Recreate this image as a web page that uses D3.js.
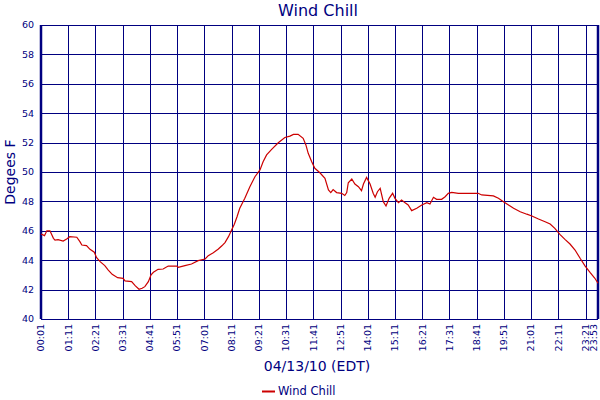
<!DOCTYPE html>
<html>
<head>
<meta charset="utf-8">
<script src="https://cdn.jsdelivr.net/npm/d3@7"></script>
<style>
  body { margin: 0; background: #fff; }
  text { font-family: "DejaVu Sans", Verdana, sans-serif; fill: #000080; }
</style>
</head>
<body>
<div id="chart"></div>
<script>
// minutes since midnight, 04/13/10
var minutes = [1, 10, 16, 24, 33, 37, 45, 58, 67, 75, 93, 101, 106, 118, 127, 138, 144, 153, 165, 174,
  184, 198, 212, 217, 234, 243, 253, 261, 268, 277, 284, 290, 302, 315, 328, 350, 354, 371, 388, 405,
  423, 431, 444, 457, 466, 474, 483, 491, 498, 505, 512, 525, 538, 551, 564, 572, 581, 594, 611, 628,
  641, 650, 662, 675, 682, 688, 697, 705, 718, 731, 740, 746, 752, 761, 774, 782, 787, 791, 800, 808,
  817, 825, 830, 838, 847, 855, 860, 866, 873, 881, 888, 896, 905, 911, 920, 928, 937, 945, 954, 967,
  980, 993, 1001, 1010, 1018, 1031, 1040, 1048, 1057, 1074, 1125, 1134, 1164, 1177, 1190, 1203, 1216, 1233, 1250, 1263,
  1280, 1297, 1310, 1322, 1335, 1348, 1361, 1374, 1387, 1400, 1413, 1425, 1433]
var windChill = [45.78, 45.67, 46.0, 46.0, 45.49, 45.37, 45.4, 45.3, 45.44, 45.6, 45.56, 45.26, 45.03, 44.99, 44.74, 44.54, 44.17, 43.9, 43.63, 43.33,
  43.04, 42.81, 42.77, 42.59, 42.54, 42.27, 42.02, 42.09, 42.2, 42.54, 43.0, 43.18, 43.38, 43.4, 43.6, 43.6, 43.52, 43.63, 43.74, 43.97,
  44.08, 44.31, 44.51, 44.76, 44.98, 45.2, 45.6, 46.05, 46.45, 46.96, 47.53, 48.21, 49.0, 49.68, 50.14, 50.7, 51.16, 51.54, 51.99, 52.35,
  52.44, 52.56, 52.56, 52.29, 51.84, 51.27, 50.7, 50.25, 49.95, 49.57, 48.78, 48.6, 48.8, 48.6, 48.55, 48.4, 48.6, 49.27, 49.52, 49.18,
  49.0, 48.73, 49.18, 49.63, 49.18, 48.55, 48.28, 48.66, 48.89, 47.98, 47.69, 48.21, 48.55, 48.21, 47.91, 48.1, 47.91, 47.76, 47.37, 47.53,
  47.76, 47.91, 47.82, 48.28, 48.14, 48.14, 48.32, 48.55, 48.61, 48.55, 48.55, 48.44, 48.37, 48.21, 47.98, 47.76, 47.53, 47.3, 47.13, 47.01,
  46.8, 46.62, 46.46, 46.17, 45.76, 45.42, 45.1, 44.69, 44.13, 43.6, 43.15, 42.77, 42.43]

var xTicks = [1, 71, 141, 211, 281, 351, 421, 491, 561, 631, 701, 771, 841, 911, 981, 1051, 1121, 1191, 1261, 1331, 1401, 1433]
var yTicks = [40, 42, 44, 46, 48, 50, 52, 54, 56, 58, 60]

var margin = {top: 25, right: 2, bottom: 81, left: 41},
    width = 600 - margin.left - margin.right,
    height = 400 - margin.top - margin.bottom;

var navy = "#000080";

var x = d3.scaleLinear().domain([1, 1433]).range([0, width])
var y = d3.scaleLinear().domain([40, 60]).range([height, 0])

var fmt = function(m) {
  return d3.format("02d")(Math.floor(m / 60)) + ":" + d3.format("02d")(m % 60)
}

var svg = d3.select("#chart")
  .append("svg")
    .attr("width", 600)
    .attr("height", 400)

var g = svg.append("g")
    .attr("transform", "translate(" + margin.left + "," + margin.top + ")")

// grid
g.selectAll(".hgrid").data(yTicks).enter().append("line")
    .attr("x1", 0).attr("x2", width)
    .attr("y1", d => Math.round(y(d)) + 0.5).attr("y2", d => Math.round(y(d)) + 0.5)
    .attr("stroke", navy).attr("stroke-width", 1)

g.selectAll(".vgrid").data(xTicks).enter().append("line")
    .attr("x1", d => Math.round(x(d)) + 0.5).attr("x2", d => Math.round(x(d)) + 0.5)
    .attr("y1", 0).attr("y2", height)
    .attr("stroke", navy).attr("stroke-width", 1)

// axes frame
g.append("line").attr("x1", 0).attr("x2", 0).attr("y1", 0).attr("y2", height)
    .attr("stroke", navy).attr("stroke-width", 2.5)
g.append("line").attr("x1", width).attr("x2", width).attr("y1", 0).attr("y2", height)
    .attr("stroke", navy).attr("stroke-width", 2.5)

// y tick labels
g.append("g").selectAll("text").data(yTicks).enter().append("text")
    .attr("x", -7)
    .attr("y", d => y(d))
    .attr("dy", "0.35em")
    .attr("text-anchor", "end")
    .style("font-size", "9.5px")
    .text(d => d)

// x tick labels (last one nudged so it stays inside the page)
g.append("g").selectAll("text").data(xTicks).enter().append("text")
    .attr("transform", d => "translate(" + Math.min(x(d), width - 4) + "," + (height + 5) + ") rotate(-90)")
    .attr("dy", "0.35em")
    .attr("text-anchor", "end")
    .style("font-size", "9.5px")
    .text(d => fmt(d))

// line
var line = d3.line()
    .x((d, i) => x(minutes[i]))
    .y(d => y(d))

g.append("path")
    .datum(windChill)
    .attr("fill", "none")
    .attr("stroke", "#cc0000")
    .attr("stroke-width", 1.2)
    .attr("d", line)

// titles
svg.append("text")
    .attr("x", 318).attr("y", 16)
    .attr("text-anchor", "middle")
    .style("font-size", "16px")
    .text("Wind Chill")

svg.append("text")
    .attr("transform", "translate(15," + (margin.top + height / 2) + ") rotate(-90)")
    .attr("text-anchor", "middle")
    .style("font-size", "14px")
    .text("Degees F")

svg.append("text")
    .attr("x", 317).attr("y", 371)
    .attr("text-anchor", "middle")
    .style("font-size", "14px")
    .text("04/13/10 (EDT)")

// legend
svg.append("line")
    .attr("x1", 262).attr("x2", 275).attr("y1", 391.5).attr("y2", 391.5)
    .attr("stroke", "#cc0000").attr("stroke-width", 2)
svg.append("text")
    .attr("x", 278).attr("y", 395)
    .style("font-size", "11.5px")
    .text("Wind Chill")
</script>
</body>
</html>
